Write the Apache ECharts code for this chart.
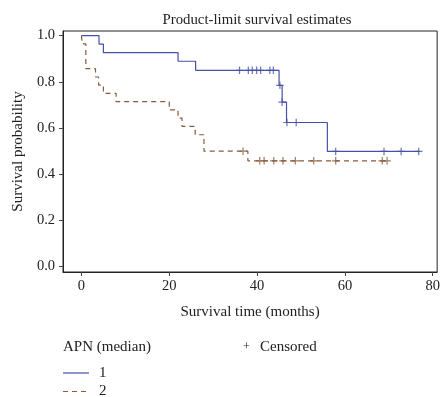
<!DOCTYPE html>
<html>
<head>
<meta charset="utf-8">
<script src="https://cdn.jsdelivr.net/npm/echarts@6/dist/echarts.min.js"></script>
<style>
    html, body { margin: 0; padding: 0; background: #fff; }
    #chart { width: 443px; height: 397px; }
</style>
</head>
<body>
<div id="chart"></div>
<script>
    // KM step points [time, survival] — value after each event
    var group1Steps = [[0, 1], [4, 0.963], [5, 0.926], [22, 0.889], [26, 0.850], [45, 0.785], [45.7, 0.712], [46.7, 0.624], [56, 0.499], [77, 0.499]];
    var group2Steps = [[0, 1], [0.2, 0.964], [1, 0.857], [3.2, 0.821], [3.9, 0.786], [5, 0.750], [7.9, 0.714], [20, 0.679], [22, 0.643], [22.9, 0.607], [25.9, 0.571], [27.9, 0.500], [37.9, 0.458], [70, 0.458]];

    // censored observations
    var group1Censor = [[36, 0.850], [38, 0.850], [38.9, 0.850], [39.9, 0.850], [40.8, 0.850], [42.9, 0.850], [43.7, 0.850], [45.2, 0.785], [45.7, 0.712], [46.8, 0.624], [48.9, 0.624], [57.9, 0.499], [68.9, 0.499], [72.8, 0.499], [76.8, 0.499]];
    var group2Censor = [[36.8, 0.500], [40.6, 0.458], [41.6, 0.458], [43.8, 0.458], [45.9, 0.458], [48.7, 0.458], [52.9, 0.458], [57.9, 0.458], [68.5, 0.458], [69.6, 0.458]];

    var xTicks = [0, 20, 40, 60, 80];
    var yTicks = [0, 0.2, 0.4, 0.6, 0.8, 1.0];

    var blue = '#4551a6';
    var brown = '#8a5a3c';
    var serif = 'Liberation Serif';
    var plus = 'path://M4.2,0H5.8V10H4.2ZM0,4.2H10V5.8H0Z';

    var chart = echarts.init(document.getElementById('chart'));

    var option = {
        animation: false,
        textStyle: { fontFamily: serif },
        title: {
            text: 'Product-limit survival estimates',
            left: 252,
            textAlign: 'center',
            top: 8,
            textStyle: { fontFamily: serif, fontSize: 14.8, fontWeight: 'normal', color: '#222' }
        },
        grid: {
            left: 63, top: 31, width: 378, height: 241,
            show: true, borderColor: '#222', borderWidth: 1
        },
        xAxis: {
            type: 'value',
            min: -4.2, max: 81,
            name: 'Survival time (months)',
            nameLocation: 'middle',
            nameGap: 33,
            nameTextStyle: { fontFamily: serif, fontSize: 15, color: '#222' },
            axisLine: { show: true, onZero: false, lineStyle: { color: '#222' } },
            axisTick: { show: true, length: 4, customValues: xTicks, lineStyle: { color: '#444' } },
            axisLabel: { customValues: xTicks, margin: 7, fontFamily: serif, fontSize: 14.5, color: '#222' },
            splitLine: { show: false }
        },
        yAxis: {
            type: 'value',
            min: -0.023, max: 1.02,
            name: 'Survival probability',
            nameLocation: 'middle',
            nameGap: 37,
            nameTextStyle: { fontFamily: serif, fontSize: 15, color: '#222' },
            axisLine: { show: true, onZero: false, lineStyle: { color: '#222' } },
            axisTick: { show: true, length: 4, customValues: yTicks, lineStyle: { color: '#444' } },
            axisLabel: {
                customValues: yTicks, margin: 8, fontFamily: serif, fontSize: 14.5, color: '#222',
                formatter: function (v) { return v.toFixed(1); }
            },
            splitLine: { show: false }
        },
        series: [
            {
                name: '1', type: 'line', step: 'end', data: group1Steps,
                showSymbol: false, lineStyle: { color: blue, width: 1.2 }
            },
            {
                name: '2', type: 'line', step: 'end', data: group2Steps,
                showSymbol: false, lineStyle: { color: brown, width: 1.2, type: [5, 4] }
            },
            {
                type: 'scatter', data: group1Censor, symbol: plus, symbolSize: 7.5,
                itemStyle: { color: blue }
            },
            {
                type: 'scatter', data: group2Censor, symbol: plus, symbolSize: 7.5,
                itemStyle: { color: brown }
            }
        ],
        graphic: [
            { type: 'text', left: 63, top: 340, style: { text: 'APN (median)', font: '15px "Liberation Serif"', fill: '#222' } },
            { type: 'text', left: 243, top: 341, style: { text: '+', font: '12px "Liberation Serif"', fill: '#222' } },
            { type: 'text', left: 260, top: 340, style: { text: 'Censored', font: '15px "Liberation Serif"', fill: '#222' } },
            { type: 'line', shape: { x1: 63, y1: 373, x2: 89, y2: 373 }, style: { stroke: blue, lineWidth: 1.2 } },
            { type: 'text', left: 99, top: 366, style: { text: '1', font: '15px "Liberation Serif"', fill: '#222' } },
            { type: 'line', shape: { x1: 63, y1: 391.5, x2: 89, y2: 391.5 }, style: { stroke: brown, lineWidth: 1.2, lineDash: [5, 4] } },
            { type: 'text', left: 99, top: 384, style: { text: '2', font: '15px "Liberation Serif"', fill: '#222' } }
        ]
    };

    chart.setOption(option);
</script>
</body>
</html>
